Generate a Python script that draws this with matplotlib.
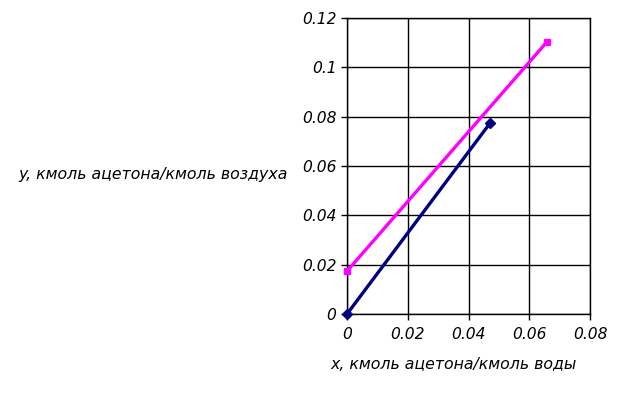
import matplotlib
matplotlib.use('Agg')
import matplotlib.pyplot as plt

# equilibrium / operating lines
x_navy = [0.0, 0.0471]
y_navy = [0.0, 0.0774]
x_pink = [0.0, 0.0658]
y_pink = [0.0174, 0.1103]

xticks = [0, 0.02, 0.04, 0.06, 0.08]
xticklabels = ['0', '0.02', '0.04', '0.06', '0.08']
yticks = [0, 0.02, 0.04, 0.06, 0.08, 0.1, 0.12]
yticklabels = ['0', '0.02', '0.04', '0.06', '0.08', '0.1', '0.12']

fig = plt.figure(figsize=(6.2, 3.95), dpi=100)
ax = fig.add_axes([0.5597, 0.205, 0.3919, 0.7494])

ax.plot(x_navy, y_navy, color='#000080', lw=2.4, marker='D', ms=5, clip_on=False, zorder=3)
ax.plot(x_pink, y_pink, color='#ff00ff', lw=2.4, marker='s', ms=5, clip_on=False, zorder=3)

ax.set_xlim(0, 0.08)
ax.set_ylim(0, 0.12)
ax.set_xticks(xticks)
ax.set_xticklabels(xticklabels, fontstyle='italic', fontsize=11.2)
ax.set_yticks(yticks)
ax.set_yticklabels(yticklabels, fontstyle='italic', fontsize=11.2)
ax.grid(True, color='black', lw=1)
ax.tick_params(direction='out', length=4, color='black', width=1)
ax.tick_params(axis='x', pad=5)
for s in ax.spines.values():
    s.set_color('black')
    s.set_linewidth(1)

fig.text(0.247, 0.557, 'y, кмоль ацетона/кмоль воздуха', ha='center', va='center',
         fontstyle='italic', fontsize=11.3)
fig.text(0.731, 0.078, 'x, кмоль ацетона/кмоль воды', ha='center', va='center',
         fontstyle='italic', fontsize=11.3)

plt.savefig('out.png', dpi=100)
